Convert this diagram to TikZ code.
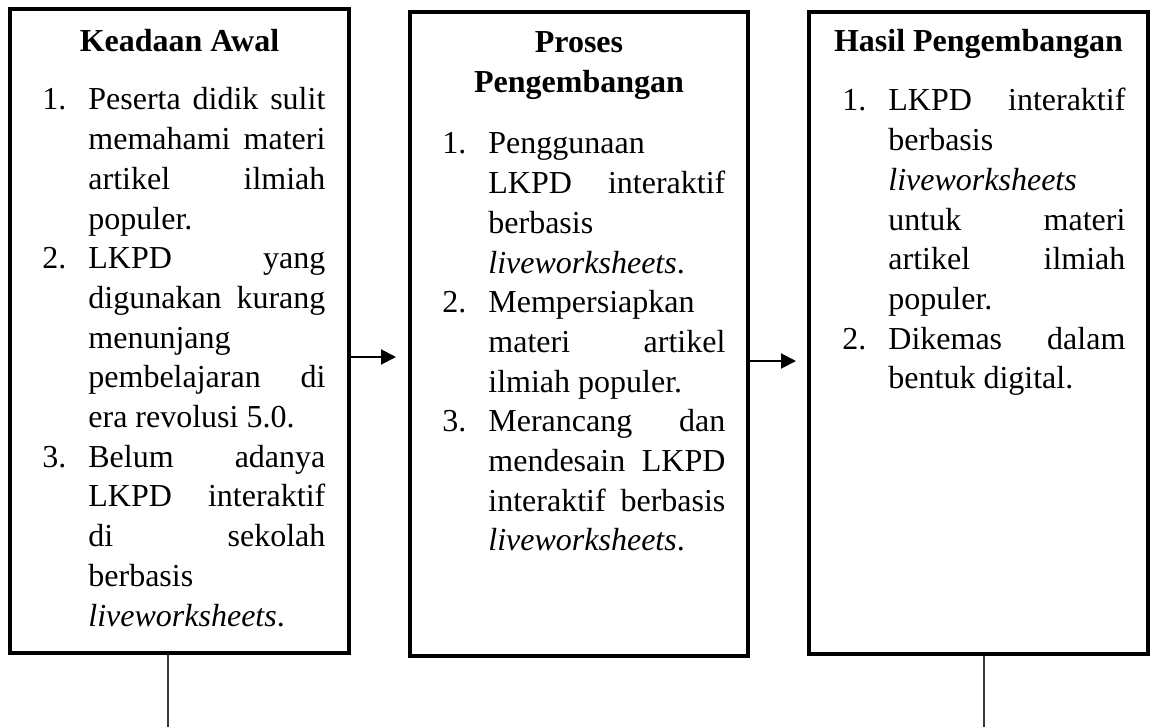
\documentclass[tikz,border=0pt]{standalone}
\usepackage{fontspec}
\setmainfont{Liberation Serif}
\usepackage{tikz}
\usetikzlibrary{positioning,arrows.meta,calc}
\definecolor{garisAbu}{HTML}{3A3A3A}

\newcommand{\butir}[2]{\par\noindent\hangindent=23pt\hangafter=1\makebox[23pt][l]{#1}#2\par}
\newcommand{\daftar}[1]{\parbox[t]{141.5pt}{\tolerance=10000\hbadness=10000\emergencystretch=20pt #1}}
\newcommand{\judul}[1]{\parbox[t]{160pt}{\centering\bfseries #1}}

\begin{document}
\begin{tikzpicture}[x=0.5pt, y=-0.5pt, >=Stealth,
          font=\fontsize{16}{19.85}\selectfont,
          kotak/.style={draw, line width=2pt, inner sep=0pt},
          teks/.style={anchor=base west, inner sep=0pt},
          kepala/.style={anchor=base, inner sep=0pt},
          panah/.style={-{Triangle[length=7.5pt,width=7.5pt]}, line width=1pt},
          garis/.style={garisAbu, line width=0.6pt}]
        \useasboundingbox (0,0) rectangle (1150,727);
        \node[kotak, minimum width=169.5pt, minimum height=322pt] (kotakA) at (179.5,331) {};
        \node[kotak, minimum width=169pt, minimum height=322pt] (kotakB) at (579,334) {};
        \node[kotak, minimum width=169.5pt, minimum height=321pt] (kotakC) at (978.5,333) {};
        \node[kepala] (judulA) at (179.5,52) {\judul{Keadaan Awal}};
        \node[kepala] (judulB) at (579,53) {\judul{Proses\\Pengembangan}};
        \node[kepala] (judulC) at (978.5,52) {\judul{Hasil Pengembangan}};
        \node[teks] (isiA) at (42,110) {\daftar{%
          \butir{1.}{Peserta didik sulit\linebreak memahami materi\linebreak artikel ilmiah\linebreak populer.}%
          \butir{2.}{LKPD yang\linebreak digunakan kurang\linebreak menunjang\linebreak pembelajaran di\linebreak era revolusi 5.0.}%
          \butir{3.}{Belum adanya\linebreak LKPD interaktif\linebreak di sekolah\linebreak berbasis\linebreak \textit{liveworksheets}.}}};
        \node[teks] (isiB) at (442,154) {\daftar{%
          \butir{1.}{Penggunaan\linebreak LKPD interaktif\linebreak berbasis\linebreak \textit{liveworksheets}.}%
          \butir{2.}{Mempersiapkan\linebreak materi artikel\linebreak ilmiah populer.}%
          \butir{3.}{Merancang dan\linebreak mendesain LKPD\linebreak interaktif berbasis\linebreak \textit{liveworksheets}.}}};
        \node[teks] (isiC) at (842,111) {\daftar{%
          \butir{1.}{LKPD interaktif\linebreak berbasis\linebreak \textit{liveworksheets}\linebreak untuk materi\linebreak artikel ilmiah\linebreak populer.}%
          \butir{2.}{Dikemas dalam\linebreak bentuk digital.}}};
        \coordinate (panahA) at ([yshift=-13pt]kotakA.east);
        \coordinate (panahB) at ([yshift=-13.5pt]kotakB.east);
        \draw[panah, shorten >=6pt] (panahA) -- (panahA -| kotakB.west);
        \draw[panah, shorten >=5.5pt] (panahB) -- (panahB -| kotakC.west);
        \coordinate (bawahA) at (168,727);
        \coordinate (bawahC) at (984,727);
        \draw[garis] (kotakA.south -| bawahA) -- (bawahA);
        \draw[garis] (kotakC.south -| bawahC) -- (bawahC);
      \end{tikzpicture}
\end{document}
